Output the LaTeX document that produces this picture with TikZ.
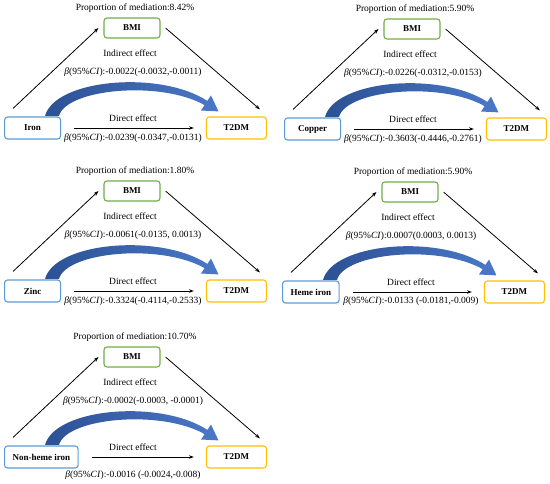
\documentclass[tikz,border=0pt]{standalone}
\usepackage{fontspec}
\setmainfont{Liberation Serif}
\usetikzlibrary{arrows.meta}

\definecolor{boxblue}{HTML}{5B9BD5}
\definecolor{boxgreen}{HTML}{70AD47}
\definecolor{boxgold}{HTML}{FFC000}
\definecolor{banddark}{HTML}{2C5194}
\definecolor{bandlight}{HTML}{4A78C8}

\tikzset{
  medbox/.style={draw, rounded corners=3pt, line width=1.1pt, fill=white,
    font=\bfseries\fontsize{9}{10}\selectfont, inner xsep=8pt},
  medtext/.style={font=\fontsize{9.5}{11}\selectfont, inner sep=0pt},
  medarrow/.style={-{Stealth[length=5pt,width=3.5pt]}, line width=0.8pt}
}

% one mediation panel: name, x, y, exposure, proportion, indirect, direct, y of direct text
\newcommand\mediation[8]{%
\begin{scope}[shift={(#2,#3)}]
\node[medtext] at (135,8) {Proportion of mediation:#5};
\node[medbox, draw=boxgreen, minimum width=56pt, minimum height=20pt] (#1bmi) at (132,28) {BMI};
\node[medbox, draw=boxblue, minimum width=56pt, minimum height=22pt, anchor=west] (#1exp) at (4,128) {#4};
\node[medbox, draw=boxgold, minimum width=60pt, minimum height=22pt, anchor=east] (#1t2) at (267,128) {T2DM};
\node[medtext] at (130,53) {Indirect effect};
\node[medtext] at (133,72) {\textit{β}(95\%\textit{CI}):#6};
\node[medtext] at (133,118) {Direct effect};
\node[medtext] at (133,#8) {\textit{β}(95\%\textit{CI}):#7};
% thick curved arrow
\shade[left color=banddark, right color=bandlight]
  (45,116) .. controls (55,79) and (160,70) .. (207.4,100.9)
  -- (211,95.5) -- (218.5,111.4) -- (201,110.5) -- (204.6,105.1)
  .. controls (160,80) and (66,89) .. (59,116) -- cycle;
\draw[medarrow] ([shift={(9,-8)}]#1exp.north west) -- ([xshift=-5pt]#1bmi.west);
\draw[medarrow] ([xshift=5pt]#1bmi.east) -- ([shift={(-7,-7)}]#1t2.north east);
\draw[medarrow, shorten <=13pt, shorten >=12pt] (#1exp) -- (#1t2);
\end{scope}}

\begin{document}
\begin{tikzpicture}[x=1pt, y=-1pt]
\useasboundingbox (0,0) rectangle (550,484);
\mediation{iron}{0}{0}{Iron}{8.42\%}{-0.0022(-0.0032,-0.0011)}{-0.0239(-0.0347,-0.0131)}{138}
\mediation{cu}{280}{1}{Copper}{5.90\%}{-0.0226(-0.0312,-0.0153)}{-0.3603(-0.4446,-0.2761)}{138}
\mediation{zn}{0}{163}{Zinc}{1.80\%}{-0.0061(-0.0135, 0.0013)}{-0.3324(-0.4114,-0.2533)}{138}
\mediation{heme}{278}{164}{Heme iron}{5.90\%}{0.0007(0.0003, 0.0013)}{-0.0133 (-0.0181,-0.009)}{137}
\mediation{nonheme}{0}{329}{Non-heme iron}{10.70\%}{-0.0002(-0.0003, -0.0001)}{-0.0016 (-0.0024,-0.008)}{146}
\end{tikzpicture}
\end{document}
